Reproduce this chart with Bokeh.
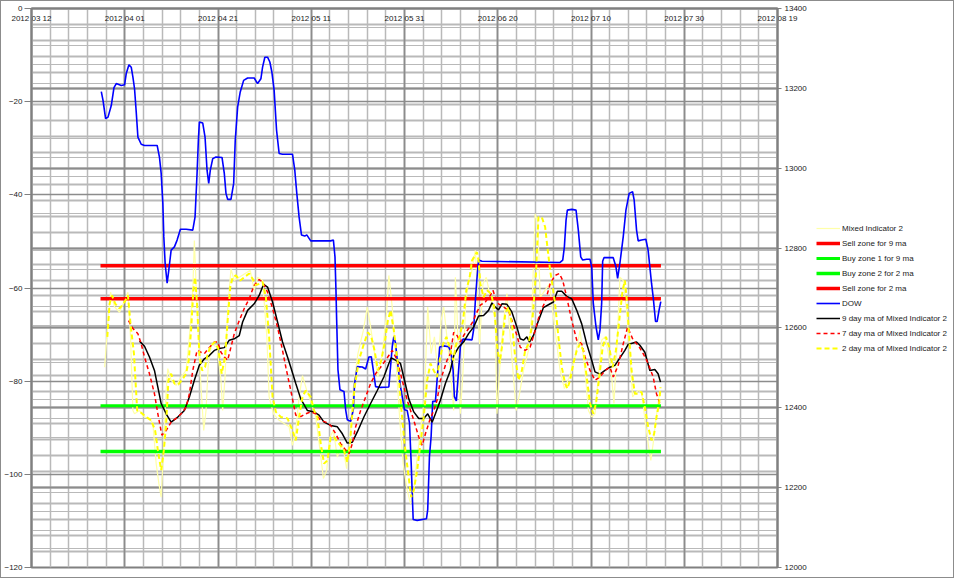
from bokeh.plotting import figure
from bokeh.layouts import row
from bokeh.models import (Range1d, LinearAxis, FixedTicker, SingleIntervalTicker,
                          Grid, Legend, LegendItem)
from bokeh.embed import file_html
from bokeh.resources import INLINE

# ---------------- data ----------------
# x values are days counted from 2012-03-12
date_tick_days = [0, 20, 40, 60, 80, 100, 120, 140, 160]
date_tick_labels = ["2012 03 12", "2012 04 01", "2012 04 21", "2012 05 11", "2012 05 31",
                    "2012 06 20", "2012 07 10", "2012 07 30", "2012 08 19"]
left_ticks = [-120, -100, -80, -60, -40, -20, 0]
right_ticks = [12000, 12200, 12400, 12600, 12800, 13000, 13200, 13400]

zone_days = [14.8, 135.0]
sell_zone_9ma = -62.3
buy_zone1_9ma = -85.3
buy_zone2_2ma = -95.1
sell_zone_2ma = -55.2

dow_day = [14.97, 15.34, 15.89, 16.41, 17.11, 17.69, 18.18, 19.25, 19.96, 20.32, 20.90, 21.39,
           21.75, 22.10, 22.46, 22.82, 23.53, 24.24, 26.95, 27.44, 27.81, 28.17, 28.38, 28.66,
           29.09, 29.45, 29.95, 30.65, 31.23, 31.94, 33.16, 34.59, 35.08, 35.51, 35.79, 36.00,
           36.73, 37.22, 37.65, 38.01, 38.35, 38.87, 39.57, 40.86, 41.35, 41.71, 42.07, 42.78,
           43.36, 43.70, 44.21, 44.77, 45.50, 46.35, 47.76, 48.49, 49.20, 49.56, 50.05, 50.63,
           51.12, 51.55, 52.04, 52.56, 53.11, 53.84, 55.98, 56.47, 56.90, 57.39, 57.90, 58.61,
           59.04, 59.89, 64.17, 64.75, 65.09, 65.30, 65.45, 65.73, 66.16, 67.02, 67.38, 67.74,
           68.45, 69.02, 69.30, 69.88, 70.95, 71.66, 72.36, 72.88, 73.30, 73.80, 74.87, 76.64,
           77.01, 77.37, 77.71, 78.07, 78.44, 79.14, 80.00, 80.58, 81.07, 81.43, 81.86, 82.72,
           84.71, 84.98, 85.35, 85.71, 86.05, 86.63, 86.99, 87.55, 88.40, 89.47, 89.99, 90.42,
           90.70, 91.12, 91.61, 91.98, 92.56, 94.48, 94.82, 95.25, 95.68, 95.89, 96.62, 113.37,
           113.94, 114.29, 114.65, 114.93, 115.87, 116.79, 117.28, 117.80, 118.22, 119.08, 119.79,
           120.15, 120.49, 121.07, 121.56, 121.93, 122.29, 122.50, 122.78, 124.77, 125.35, 125.71,
           126.20, 126.91, 127.49, 128.19, 128.92, 129.26, 129.77, 130.12, 130.84, 131.76, 132.25,
           132.62, 132.98, 133.33, 133.84, 134.18, 134.61, 134.97]
dow_val = [13192, 13170, 13124, 13128, 13157, 13202, 13212, 13207, 13209, 13237, 13259, 13253,
           13228, 13199, 13141, 13078, 13060, 13057, 13057, 13028, 12987, 12912, 12828, 12762,
           12712, 12745, 12795, 12803, 12820, 12847, 12847, 12845, 12878, 12987, 13070, 13116,
           13113, 13078, 12995, 12962, 12995, 13024, 13028, 13027, 12987, 12937, 12922, 12922,
           12962, 13070, 13153, 13191, 13220, 13226, 13226, 13212, 13224, 13253, 13278, 13278,
           13266, 13241, 13195, 13095, 13037, 13035, 13035, 12995, 12937, 12878, 12833, 12830,
           12833, 12818, 12818, 12820, 12778, 12695, 12620, 12495, 12445, 12441, 12395, 12370,
           12366, 12395, 12462, 12503, 12502, 12497, 12527, 12528, 12495, 12453, 12451, 12452,
           12503, 12553, 12578, 12562, 12520, 12453, 12395, 12393, 12362, 12262, 12120, 12118,
           12122, 12145, 12278, 12328, 12416, 12416, 12470, 12552, 12555, 12553, 12537, 12495,
           12428, 12417, 12495, 12553, 12572, 12570, 12595, 12678, 12745, 12770, 12767, 12764,
           12770, 12803, 12870, 12895, 12897, 12895, 12845, 12778, 12770, 12772, 12772,
           12753, 12662, 12603, 12570, 12595, 12662, 12767, 12776, 12776, 12753, 12724,
           12762, 12828, 12895, 12937, 12941, 12920, 12845, 12818, 12820, 12822, 12795,
           12753, 12712, 12678, 12616, 12616, 12645, 12666]

ma9_day = [23.17, 24.24, 25.30, 26.37, 27.10, 27.81, 28.88, 29.95, 31.38, 32.79, 33.86, 34.93,
           36.00, 37.07, 38.14, 39.21, 40.28, 41.35, 42.42, 43.49, 44.56, 45.28, 46.35, 47.76,
           48.83, 49.78, 50.63, 51.70, 52.77, 53.84, 54.91, 55.61, 56.68, 57.75, 59.19, 60.60,
           61.67, 62.74, 64.17, 65.60, 66.67, 67.74, 68.81, 69.88, 71.29, 72.73, 74.16, 75.57,
           76.64, 77.16, 78.07, 79.14, 80.00, 80.92, 81.99, 83.06, 84.13, 84.98, 85.93, 86.63,
           87.70, 88.77, 89.84, 90.55, 91.61, 92.68, 93.75, 94.82, 95.89, 96.96, 98.03, 98.76,
           99.47, 100.17, 100.90, 101.97, 103.04, 104.11, 104.81, 105.52, 106.25, 106.80, 107.66,
           108.73, 109.80, 110.87, 111.94, 112.79, 113.73, 114.80, 115.87, 116.94, 118.01, 119.08,
           120.15, 120.86, 121.93, 123.00, 124.06, 125.13, 126.20, 127.27, 127.98, 129.05, 129.77,
           130.48, 131.55, 132.62, 133.69, 134.39, 134.91]
ma9_val = [-71.4, -72.5, -74.8, -77.7, -81.3, -84.8, -87.0, -88.8, -87.7, -86.3, -83.4, -79.8,
           -76.6, -75.2, -74.5, -73.4, -73.0, -72.8, -71.2, -70.9, -70.2, -67.3, -64.8, -63.4,
           -61.6, -59.2, -59.8, -63.0, -67.3, -71.6, -74.8, -77.0, -80.5, -83.8, -86.3, -86.6,
           -87.3, -88.8, -89.5, -89.8, -91.3, -93.3, -93.1, -90.9, -87.7, -84.8, -82.0, -79.1,
           -76.2, -75.0, -75.5, -76.2, -79.8, -83.8, -86.6, -88.0, -88.0, -87.0, -88.8, -87.0,
           -84.1, -80.5, -77.7, -74.5, -72.7, -71.6, -69.8, -68.4, -66.0, -65.9, -64.8, -63.2,
           -64.1, -64.7, -63.4, -63.5, -65.2, -68.4, -70.9, -71.2, -70.5, -71.6, -70.2,
           -67.0, -64.2, -63.6, -63.0, -60.7, -60.7, -61.8, -62.3, -64.8, -67.7, -72.0,
           -75.5, -78.0, -78.5, -77.7, -77.0, -76.6, -75.0, -73.4, -72.1, -71.8, -71.6,
           -72.3, -73.8, -77.7, -77.5, -78.4, -80.2]

ma7_day = [20.81, 21.75, 22.82, 23.53, 24.24, 25.30, 26.37, 27.10, 27.96, 28.88, 29.95, 31.02,
           32.09, 33.16, 33.86, 34.59, 35.51, 36.36, 37.07, 37.93, 39.21, 39.94, 40.64, 41.35,
           42.07, 42.78, 43.49, 44.56, 45.63, 46.70, 47.76, 48.83, 49.56, 50.63, 51.70, 52.77,
           53.84, 54.55, 55.61, 56.68, 57.75, 58.82, 59.89, 60.96, 62.03, 63.10, 64.17, 65.24,
           66.31, 67.38, 68.09, 68.81, 69.52, 70.59, 71.66, 72.73, 73.80, 74.87, 75.94, 76.64,
           77.37, 78.44, 79.51, 80.58, 81.99, 83.06, 83.79, 84.49, 85.41, 86.27, 86.99, 87.70,
           88.41, 89.13, 89.84, 90.55, 91.27, 91.98, 92.68, 93.75, 94.82, 95.19, 96.26, 97.33,
           98.40, 98.97, 99.47, 100.17, 101.24, 102.31, 103.04, 104.11, 104.81, 105.88, 106.95,
           108.02, 109.09, 110.16, 111.23, 112.30, 113.22, 113.94, 114.80, 115.87, 116.94, 118.01,
           118.72, 119.79, 120.86, 121.93, 123.00, 124.06, 124.77, 125.84, 126.91, 127.85, 129.05,
           130.12, 131.19, 132.26, 133.33, 134.05, 134.76]
ma7_val = [-67.0, -68.7, -69.8, -72.0, -74.8, -78.4, -82.7, -87.0, -91.6, -90.6, -88.8, -88.0,
           -87.0, -85.6, -82.7, -77.7, -73.4, -73.8, -74.1, -73.0, -71.6, -71.6, -73.8, -74.8,
           -75.5, -72.7, -69.8, -67.0, -64.4, -62.3, -59.4, -58.2, -58.7, -60.9, -64.4, -68.4,
           -73.4, -77.0, -82.0, -87.3, -87.6, -87.0, -86.6, -87.0, -88.4, -88.8, -89.5, -91.3,
           -93.4, -94.8, -95.6, -93.4, -89.8, -86.3, -83.4, -80.5, -78.4, -77.0, -75.5, -74.5,
           -73.4, -75.5, -79.8, -84.1, -88.4, -92.0, -93.8, -91.3, -88.4, -86.3, -84.1, -79.8,
           -77.7, -75.5, -74.1, -69.5, -70.2, -71.6, -70.2, -68.7, -67.0, -65.9, -63.7, -63.0,
           -61.6, -60.5, -62.0, -63.4, -64.1, -64.8, -67.0, -70.2, -72.7, -73.4, -72.7,
           -69.1, -65.2, -63.0, -59.1, -57.3, -56.9, -58.4, -62.0, -67.0, -71.2, -72.0,
           -74.8, -77.7, -79.8, -79.1, -77.7, -77.0, -79.1, -76.6, -72.0, -68.4, -71.2,
           -72.3, -74.1, -76.2, -79.1, -82.7, -84.8]

ma2_day = [16.26, 16.75, 17.26, 17.97, 18.89, 19.96, 20.68, 21.24, 21.97, 22.67, 23.53, 24.60,
           25.67, 26.52, 27.10, 27.81, 28.39, 28.88, 29.37, 29.95, 30.65, 31.51, 32.45, 33.16,
           33.73, 34.22, 34.72, 35.08, 35.51, 36.00, 36.58, 37.22, 37.80, 38.50, 39.36, 40.06,
           40.79, 41.50, 42.07, 42.63, 43.14, 43.85, 44.77, 45.63, 46.70, 47.42, 48.13, 48.83,
           49.56, 50.27, 50.97, 51.70, 52.41, 53.48, 54.91, 55.98, 56.68, 57.39, 58.12, 58.82,
           59.89, 60.60, 61.33, 62.03, 62.74, 63.47, 64.17, 64.88, 65.95, 67.02, 67.74, 68.30,
           68.81, 69.30, 70.22, 71.29, 72.15, 72.88, 73.58, 74.29, 75.02, 75.72, 76.43, 77.01,
           77.71, 78.57, 79.29, 80.00, 80.71, 81.43, 81.99, 82.72, 83.42, 84.13, 84.86, 85.56,
           86.27, 86.99, 87.55, 88.28, 88.98, 89.69, 90.42, 91.12, 91.83, 92.56, 93.26, 93.97,
           94.48, 95.55, 95.89, 96.26, 96.96, 97.69, 98.55, 99.25, 99.83, 100.39, 100.90, 101.60,
           102.31, 103.04, 103.74, 104.45, 105.18, 105.88, 106.59, 107.32, 107.81, 108.24, 108.73,
           109.45, 110.16, 110.65, 111.23, 111.59, 112.30, 113.01, 113.73, 114.44, 114.93, 115.51,
           116.22, 116.94, 117.65, 118.36, 119.08, 119.79, 120.49, 121.07, 121.78, 122.50, 123.21,
           123.92, 124.64, 125.35, 126.05, 126.78, 127.27, 127.76, 128.19, 128.70, 129.41, 130.12,
           130.84, 131.55, 132.26, 132.98, 133.54, 134.05, 134.61, 134.91]
ma2_val = [-70.5, -63.4, -61.6, -63.4, -64.4, -63.0, -61.6, -67.7, -74.1, -86.3, -86.8, -87.7,
           -88.4, -90.6, -94.8, -99.1, -94.8, -89.1, -79.8, -78.4, -80.5, -80.7, -79.5, -78.4,
           -75.5, -69.1, -60.5, -57.7, -63.4, -74.1, -77.7, -77.0, -74.1, -72.3, -71.6, -73.0,
           -78.4, -74.8, -67.0, -59.8, -57.7, -57.3, -58.4, -57.7, -56.9, -58.0, -59.4, -59.1,
           -58.7, -62.0, -70.5, -83.4, -86.6, -87.7, -88.0, -90.6, -92.7, -87.7, -83.4, -82.0,
           -83.4, -86.3, -87.7, -93.4, -97.7, -97.0, -92.0, -92.0, -93.4, -94.8, -97.4, -93.4,
           -87.0, -81.3, -75.5, -72.0, -69.5, -70.5, -73.4, -77.7, -75.5, -72.0, -67.0, -64.8,
           -69.1, -76.2, -85.6, -93.4, -99.1, -104.9, -103.4, -99.1, -93.4, -87.7, -79.8, -76.2,
           -77.7, -79.1, -75.5, -72.0, -70.5, -72.7, -75.5, -72.0, -70.5, -67.0, -60.5, -57.7,
           -54.1, -52.3, -54.1, -59.1, -62.0, -60.5, -61.2, -64.1, -72.0, -76.2, -72.7, -65.5,
           -64.1, -67.7, -74.8, -79.8, -77.7, -73.4, -72.0, -68.4, -62.0, -56.2, -44.8,
           -44.8, -46.9, -51.2, -56.2, -58.4, -63.4, -70.5, -77.0, -80.5, -81.6, -79.8,
           -76.2, -73.4, -72.0, -73.4, -79.1, -84.8, -87.0, -84.8, -79.1, -72.7, -70.5,
           -72.7, -77.0, -73.4, -67.0, -60.5, -58.4, -63.4, -70.5, -77.7, -82.7, -82.7,
           -82.3, -85.6, -89.8, -92.7, -91.3, -87.7, -84.8, -81.3]

mix_day = [15.68, 16.41, 16.96, 17.82, 18.89, 19.96, 20.68, 21.24, 21.75, 22.10, 23.17, 24.24,
           25.30, 26.03, 26.74, 27.32, 27.81, 28.39, 28.88, 29.24, 29.95, 31.02, 32.09, 33.16,
           33.86, 34.59, 34.93, 35.51, 36.36, 36.94, 37.43, 37.93, 38.65, 39.79, 40.64, 41.00,
           41.50, 42.07, 42.78, 43.49, 44.56, 46.91, 47.76, 48.49, 49.56, 50.48, 50.97, 51.91,
           53.11, 54.18, 55.25, 55.98, 56.68, 57.39, 58.12, 59.04, 60.04, 60.96, 61.88, 62.61,
           63.32, 64.02, 64.75, 65.60, 66.67, 67.59, 68.30, 69.03, 70.01, 71.17, 72.02, 72.73,
           73.58, 74.29, 75.23, 76.15, 76.64, 77.37, 78.07, 78.99, 79.72, 80.58, 81.28, 81.86,
           82.72, 83.42, 84.28, 84.98, 85.71, 86.42, 87.12, 87.85, 88.41, 89.13, 89.84, 90.55,
           90.91, 91.27, 91.98, 92.56, 93.11, 93.75, 94.48, 95.19, 95.55, 96.11, 96.83, 97.54,
           99.47, 99.83, 100.39, 101.24, 101.97, 102.67, 103.96, 104.67, 105.52, 106.59, 107.32,
           108.02, 108.60, 109.09, 111.08, 112.30, 113.37, 114.29, 115.36, 116.58, 117.65, 118.72,
           119.44, 120.15, 120.86, 121.56, 122.29, 123.00, 123.74, 124.43, 124.92, 125.50, 126.20,
           126.91, 127.64, 128.34, 128.92, 129.41, 130.12, 130.84, 131.76, 132.47, 132.83, 133.33,
           133.90, 134.39, 134.76]
mix_val = [-77.0, -67.0, -60.9, -64.1, -65.2, -62.7, -60.9, -70.5, -86.3, -87.0, -86.3, -87.7,
           -88.0, -89.1, -97.7, -102.0, -104.9, -93.4, -82.0, -77.3, -79.8, -80.9, -79.1, -77.7,
           -70.5, -60.5, -49.8, -64.8, -81.3, -90.6, -86.3, -76.2, -72.0, -72.7, -79.8, -86.3,
           -79.4, -64.8, -55.9, -58.4, -57.7, -56.2, -60.5, -57.7, -58.4, -70.5, -83.4, -87.0,
           -88.4, -89.1, -89.8, -93.8, -90.6, -83.4, -78.8, -82.0, -84.8, -87.7, -94.8, -100.9,
           -99.1, -92.0, -90.6, -96.3, -93.4, -98.8, -93.4, -81.3, -74.1, -69.1, -64.1, -68.4,
           -74.1, -79.1, -74.1, -65.5, -57.3, -64.1, -74.1, -88.4, -97.7, -103.4, -106.3, -104.9,
           -96.3, -90.6, -83.4, -64.1, -74.1, -70.5, -77.7, -67.0, -64.1, -70.8, -77.7, -86.3,
           -57.7, -65.5, -87.0, -77.7, -63.4, -58.4, -56.2, -51.9, -59.1, -72.0, -59.1, -57.7,
           -67.0, -87.0, -77.7, -67.0, -61.2, -70.5, -86.3, -82.7, -77.7, -73.4, -65.5,
           -44.1, -45.9, -62.0, -59.1, -69.1, -77.7, -81.6, -79.1, -74.8, -69.1, -77.7,
           -86.3, -87.7, -87.0, -79.1, -71.2, -70.5, -74.1, -79.1, -84.8, -74.1, -57.7,
           -58.4, -64.8, -74.1, -83.4, -82.7, -82.0, -82.3, -89.8, -94.8, -97.0, -93.4,
           -88.4, -84.8, -82.0]

legend_labels = ["Mixed Indicator 2", "Sell zone for 9 ma", "Buy zone 1 for 9 ma",
                 "Buy zone 2 for 2 ma", "Sell zone for 2 ma", "DOW",
                 "9 day ma of Mixed Indicator 2", "7 day ma of Mixed Indicator 2",
                 "2 day ma of Mixed Indicator 2"]

# ---------------- styles ----------------
FONT = "Liberation Sans"
TXT = "#1a1a1a"
styles = [
    dict(line_color="#FFFFA8", line_width=1.2),                       # Mixed Indicator 2
    dict(line_color="#FF0000", line_width=3.5),                       # sell 9
    dict(line_color="#00FF00", line_width=3),                         # buy 1
    dict(line_color="#00FF00", line_width=3.5),                       # buy 2
    dict(line_color="#FF0000", line_width=3.5),                       # sell 2
    dict(line_color="#0000FF", line_width=1.6),                       # DOW
    dict(line_color="#000000", line_width=1.5),                       # 9 ma
    dict(line_color="#FF0000", line_width=1.5, line_dash="4 3"),      # 7 ma
    dict(line_color="#FFFF00", line_width=2, line_dash="5 3"),        # 2 ma
]

H = 576
W_MAIN = 808
W_LEG = 144

p = figure(width=W_MAIN, height=H, output_backend="svg", toolbar_location=None,
           x_range=Range1d(0, 160), y_range=Range1d(-120, 0),
           x_axis_location="above", y_axis_location="left",
           min_border_left=29, min_border_right=31, min_border_top=7, min_border_bottom=10)
p.extra_y_ranges = {"dow": Range1d(12000, 13400)}
p.background_fill_color = "white"
p.border_fill_color = "white"
p.outline_line_color = "#808080"
p.outline_line_width = 2

p.xgrid.visible = False
p.ygrid.visible = False


def add_grid(dim, interval, color, width, range_name=None):
    kw = dict(dimension=dim, ticker=SingleIntervalTicker(interval=interval),
              grid_line_color=color, grid_line_width=width)
    if range_name:
        kw["y_range_name"] = range_name
    p.add_layout(Grid(**kw))


LIGHT = "#b9b9b9"
DARK = "#8c8c8c"
add_grid(0, 4, LIGHT, 1.5)
add_grid(1, 4, LIGHT, 1.2)
add_grid(1, 40, LIGHT, 1.8, "dow")
add_grid(0, 20, DARK, 1.8)
add_grid(1, 20, DARK, 1.3)
add_grid(1, 200, DARK, 1.8, "dow")

# top date axis (labels sit just inside the frame)
top = p.xaxis[0]
top.ticker = FixedTicker(ticks=date_tick_days)
top.major_label_overrides = {d: s for d, s in zip(date_tick_days, date_tick_labels)}
top.major_tick_out = 0
top.major_tick_in = 0
top.minor_tick_out = 0
top.minor_tick_in = 0
top.axis_line_color = "#808080"
top.axis_line_width = 2
top.major_label_standoff = -14
top.major_label_text_font = FONT
top.major_label_text_font_size = "8px"
top.major_label_text_color = TXT

left = p.yaxis[0]
left.ticker = FixedTicker(ticks=left_ticks)
left.major_tick_out = 7
left.major_tick_in = 0
left.minor_tick_out = 0
left.minor_tick_in = 0
left.major_tick_line_color = "#808080"
left.axis_line_color = "#808080"
left.axis_line_width = 2
left.major_label_standoff = 2
left.major_label_text_font = FONT
left.major_label_text_font_size = "8px"
left.major_label_text_color = TXT

right = LinearAxis(y_range_name="dow", ticker=FixedTicker(ticks=right_ticks))
right.major_tick_out = 4
right.major_tick_in = 0
right.minor_tick_out = 0
right.minor_tick_in = 0
right.major_tick_line_color = "#808080"
right.axis_line_color = "#808080"
right.axis_line_width = 2
right.major_label_standoff = 3
right.major_label_text_font = FONT
right.major_label_text_font_size = "8px"
right.major_label_text_color = TXT
p.add_layout(right, "right")

# ---------------- series ----------------
renderers = [
    p.line(mix_day, mix_val, **styles[0]),
    p.line(zone_days, [sell_zone_9ma] * 2, **styles[1]),
    p.line(zone_days, [buy_zone1_9ma] * 2, **styles[2]),
    p.line(zone_days, [buy_zone2_2ma] * 2, **styles[3]),
    p.line(zone_days, [sell_zone_2ma] * 2, **styles[4]),
    p.line(dow_day, dow_val, y_range_name="dow", **styles[5]),
    p.line(ma9_day, ma9_val, **styles[6]),
    p.line(ma7_day, ma7_val, **styles[7]),
    p.line(ma2_day, ma2_val, **styles[8]),
]

# ---------------- legend panel (second canvas to the right) ----------------
q = figure(width=W_LEG, height=H, output_backend="svg", toolbar_location=None,
           x_range=Range1d(0, 1), y_range=Range1d(0, 1),
           x_axis_type=None, y_axis_type=None,
           min_border_left=0, min_border_right=0, min_border_top=0, min_border_bottom=0)
q.xgrid.visible = False
q.ygrid.visible = False
q.outline_line_color = None
q.background_fill_color = "white"
q.border_fill_color = "white"

items = []
for lab, st, r_main in zip(legend_labels, styles, renderers):
    # proxy renderer sharing the main series' data source (falls outside this panel's ranges)
    r = q.line(x="x", y="y", source=r_main.data_source, **st)
    items.append(LegendItem(label=lab, renderers=[r]))

legend = Legend(items=items, location=(7, 213))
legend.padding = 0
legend.margin = 0
legend.spacing = 3
legend.glyph_width = 24
legend.glyph_height = 12
legend.label_height = 12
legend.label_standoff = 2
legend.label_text_font = FONT
legend.label_text_font_size = "8px"
legend.label_text_color = TXT
legend.border_line_color = None
legend.background_fill_alpha = 0
q.add_layout(legend)

layout = row(p, q, spacing=0)
layout.styles = {"border": "1px solid #8c8c8c", "width": "fit-content"}

open("out.html", "w").write(file_html(layout, INLINE))
